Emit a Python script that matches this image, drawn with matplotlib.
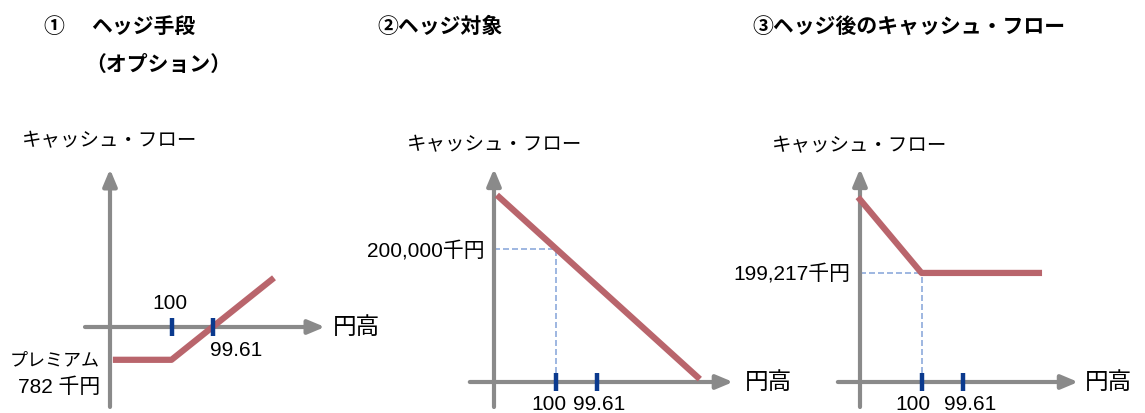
import matplotlib
matplotlib.use('Agg')
import matplotlib.pyplot as plt

plt.rcParams['font.family'] = ['Liberation Sans', 'Noto Sans CJK JP']

W, H = 1145, 414
UNIT = 41.0  # pixels per schematic unit

GRAY = '#8a8a8a'
RED = '#b9656c'
BLUE = '#0b3a8e'
DASH = '#8eaadb'

# schematic rate axis (yen appreciation to the right)
tick_pos = [1.5, 2.5]
tick_labels = ['100', '99.61']

# ① option payoff
option_x = [0.07, 1.5, 4.0]
option_y = [-0.8, -0.8, 1.2]

# ② hedged item
item_x = [0.07, 5.02]
item_y = [4.56, 0.07]
item_ref_y = 3.24
item_ref_label = '200,000千円'

# ③ cash flow after hedge
hedged_x = [-0.05, 1.5, 4.44]
hedged_y = [4.51, 2.66, 2.66]
hedged_ref_y = 2.66
hedged_ref_label = '199,217千円'

fig = plt.figure(figsize=(W / 100, H / 100), dpi=100)


def make_panel(left, right, ox, oy):
    '''axes in schematic units, origin placed at pixel (ox, oy)'''
    ax = fig.add_axes([left / W, 0, (right - left) / W, 1])
    ax.set_xlim((left - ox) / UNIT, (right - ox) / UNIT)
    ax.set_ylim((oy - H) / UNIT, oy / UNIT)
    ax.axis('off')
    return ax


def draw_axes(ax, x0, x1, y0, y1):
    style = dict(arrowstyle='-|>,head_length=1.0,head_width=0.42', color=GRAY,
                 lw=3, shrinkA=0, shrinkB=0)
    ax.annotate('', xy=(x1, 0), xytext=(x0, 0), arrowprops=style)
    ax.annotate('', xy=(0, y1), xytext=(0, y0), arrowprops=style)
    ax.plot(tick_pos, [0, 0], ls='none', marker='|', ms=13, mew=3.2,
            color=BLUE, zorder=5)


def ref_lines(ax, y):
    ax.plot([0, tick_pos[0]], [y, y], color=DASH, lw=1.2, dashes=(3.6, 1.8), zorder=2)
    ax.plot([tick_pos[0], tick_pos[0]], [0, y], color=DASH, lw=1.2,
            dashes=(3.6, 1.8), zorder=2)


lab = dict(fontsize=15, va='center')
yen = dict(fontsize=17, va='center')
cf = 'キャッシュ・フロー'

# ---- panel 1
ax1 = make_panel(0, 380, 110, 328)
draw_axes(ax1, -0.61, 5.24, -1.95, 3.85)
ax1.plot(option_x, option_y, color=RED, lw=4.5, solid_capstyle='butt', zorder=3)
ax1.text(-2.15, 4.54, cf, fontsize=14, va='center')
ax1.text(1.46, 0.59, tick_labels[0], ha='center', **lab)
ax1.text(3.07, -0.54, tick_labels[1], ha='center', **lab)
ax1.text(5.44, 0, '円高', **yen)
ax1.text(-0.24, -0.8, 'プレミアム', ha='right', fontsize=13, va='center')
ax1.text(-0.24, -1.44, '782 千円', ha='right', **lab)

# ---- panel 2
ax2 = make_panel(380, 740, 494, 383)
draw_axes(ax2, -0.59, 5.83, -0.61, 5.2)
ref_lines(ax2, item_ref_y)
ax2.plot(item_x, item_y, color=RED, lw=4.5, solid_capstyle='butt', zorder=3)
ax2.text(-2.12, 5.8, cf, fontsize=14, va='center')
ax2.text(-0.22, item_ref_y, item_ref_label, ha='right', **lab)
ax2.text(1.33, -0.52, tick_labels[0], ha='center', **lab)
ax2.text(2.56, -0.52, tick_labels[1], ha='center', **lab)
ax2.text(6.12, 0, '円高', **yen)

# ---- panel 3
ax3 = make_panel(740, 1145, 860, 383)
draw_axes(ax3, -0.54, 5.32, -0.61, 5.2)
ref_lines(ax3, hedged_ref_y)
ax3.plot(hedged_x, hedged_y, color=RED, lw=4.5, solid_capstyle='butt', zorder=3)
ax3.text(-2.15, 5.76, cf, fontsize=14, va='center')
ax3.text(-0.24, hedged_ref_y, hedged_ref_label, ha='right', **lab)
ax3.text(1.29, -0.52, tick_labels[0], ha='center', **lab)
ax3.text(2.68, -0.52, tick_labels[1], ha='center', **lab)
ax3.text(5.49, 0, '円高', **yen)

# ---- titles
tt = dict(fontsize=15, fontweight='bold', va='center')
fig.text(43 / W, 1 - 27 / H, '①', **tt)
fig.text(91 / W, 1 - 27 / H, 'ヘッジ手段', **tt)
fig.text(85 / W, 1 - 65 / H, '（オプション）', **tt)
fig.text(377 / W, 1 - 27 / H, '②ヘッジ対象', **tt)
fig.text(752 / W, 1 - 27 / H, '③ヘッジ後のキャッシュ・フロー', **tt)

fig.savefig('out.png', dpi=100)
